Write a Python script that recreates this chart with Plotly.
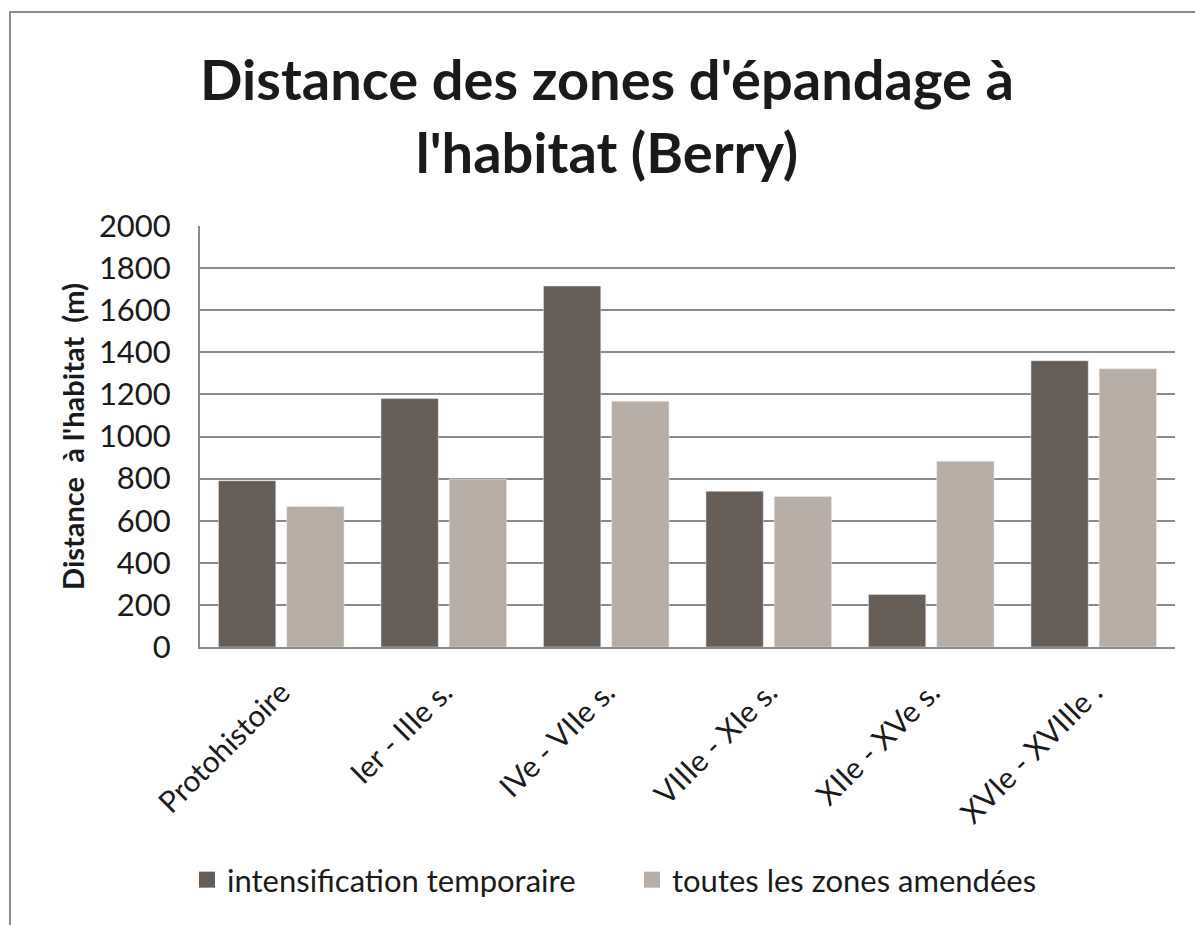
import plotly.graph_objects as go

categories = ["Protohistoire", "Ier - IIIe s.", "IVe - VIIe s.", "VIIIe - XIe s.", "XIIe - XVe s.", "XVIe - XVIIIe ."]
intensification = [790, 1180, 1715, 740, 250, 1360]
toutes_zones = [668, 798, 1168, 715, 882, 1322]
series_names = ["intensification temporaire", "toutes les zones amendées"]
y_ticks = [0, 200, 400, 600, 800, 1000, 1200, 1400, 1600, 1800, 2000]

DARK = "#675e57"
LIGHT = "#b8ada5"
GRID = "#8a8a8a"
FONT = "Lato"
TXT = "#1a1a1a"

# page is rendered with an 8px body margin
OFF = 8
W, H = 1203 - OFF, 925 - OFF
L, R, T, B = 200 - OFF, 28, 226 - OFF, 278
pw, ph = W - L - R, H - T - B

def px(x):
    return (x - OFF - L) / pw

def py(y):
    return (H - B - (y - OFF)) / ph

fig = go.Figure()
fig.add_trace(go.Bar(x=categories, y=intensification, name=series_names[0],
                     marker_color=DARK, showlegend=False, legendgroup="a"))
fig.add_trace(go.Bar(x=categories, y=toutes_zones, name=series_names[1],
                     marker_color=LIGHT, showlegend=False, legendgroup="b"))
# legend swatches (larger squares, as in the reference)
fig.add_trace(go.Scatter(x=[None], y=[None], mode="markers", name=series_names[0], legendgroup="a",
                         marker=dict(symbol="square", size=24, color=DARK)))
fig.add_trace(go.Scatter(x=[None], y=[None], mode="markers", name=series_names[1], legendgroup="b",
                         marker=dict(symbol="square", size=24, color=LIGHT)))

fig.update_layout(
    width=W, height=H,
    margin=dict(l=L, r=R, t=T, b=B),
    paper_bgcolor="white", plot_bgcolor="white",
    barmode="group", bargap=0.16, bargroupgap=0.16,
    font=dict(family=FONT, color=TXT),
    title=dict(
        text="<b>Distance des zones d'épandage à<br>l'habitat (Berry)</b>",
        x=(607 - OFF) / W, xref="container", xanchor="center",
        y=1 - 92 / H, yref="container", yanchor="middle",
        font=dict(family=FONT, size=56, color=TXT),
    ),
    legend=dict(
        orientation="h", x=px(187), xanchor="left", y=py(880), yanchor="middle",
        font=dict(family=FONT, size=31, color=TXT),
        entrywidth=400, entrywidthmode="pixels",
        itemsizing="trace", traceorder="normal",
    ),
    showlegend=True,
)
fig.update_yaxes(
    range=[0, 2000], tickvals=y_ticks, showgrid=True, gridcolor=GRID, gridwidth=2,
    showline=True, linecolor=GRID, linewidth=2, zeroline=False,
    tickfont=dict(family=FONT, size=31, color=TXT),
    ticks="outside", ticklen=21, tickcolor="rgba(0,0,0,0)",
    title=dict(text="<b>Distance  à l'habitat  (m)</b>", font=dict(family=FONT, size=29, color=TXT), standoff=6),
)
fig.update_xaxes(
    showline=True, linecolor=GRID, linewidth=2, tickangle=-45,
    tickfont=dict(family=FONT, size=30, color=TXT),
    ticks="", showgrid=False, ticklabelstandoff=14,
)
fig.add_shape(type="rect", xref="paper", yref="paper",
              x0=px(10), x1=px(1215), y0=py(940), y1=py(12),
              line=dict(color="#8a8a8a", width=2), fillcolor="rgba(0,0,0,0)", layer="below")

fig.write_html("out.html")
